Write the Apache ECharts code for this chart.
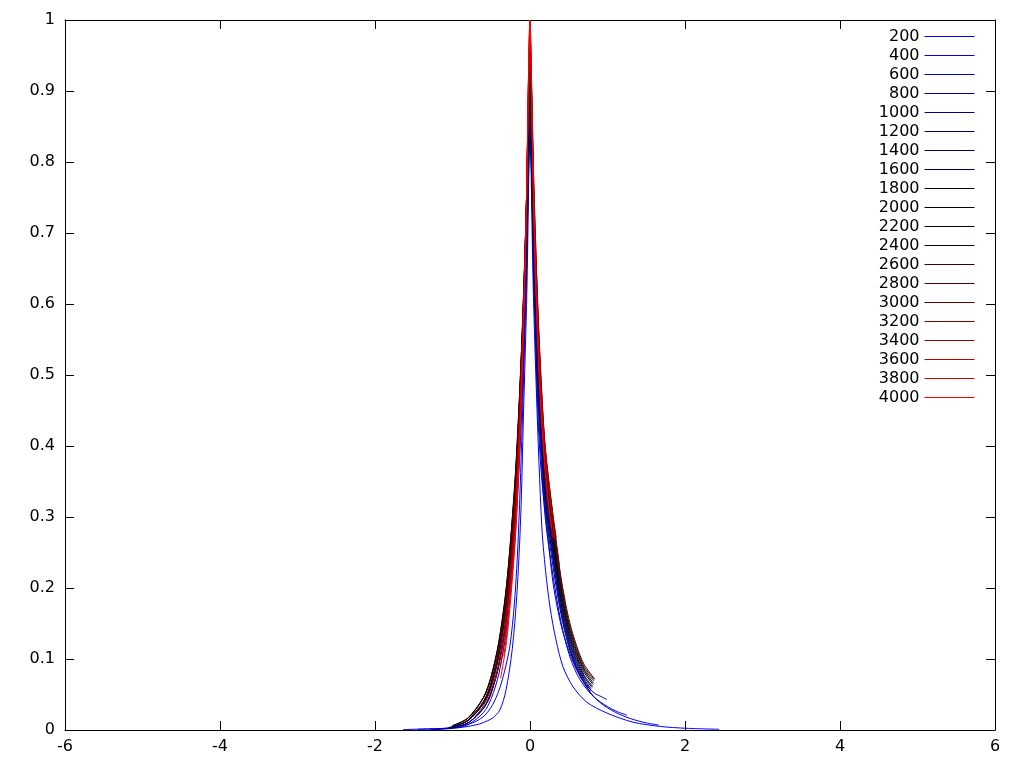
<!DOCTYPE html>
<html>
<head>
<meta charset="utf-8">
<script src="https://cdn.jsdelivr.net/npm/echarts@6/dist/echarts.min.js"></script>
<style>
  html, body { margin: 0; padding: 0; background: #fff; }
  #chart { width: 1024px; height: 768px; }
</style>
</head>
<body>
<div id="chart"></div>
<script>
// curve samples [x, y], one array per time step
var c200 = [[-1.64,0.0005],[-1.38,0.0015],[-1.1,0.0022],[-0.94,0.003],[-0.8,0.005],[-0.65,0.0085],[-0.55,0.013],[-0.48,0.017],[-0.39,0.028],[-0.31,0.056],[-0.23,0.113],[-0.17,0.19],[-0.12,0.3],[-0.085,0.44],[-0.04,0.62],[0,0.84],[0.04,0.63],[0.086,0.465],[0.151,0.289],[0.2,0.225],[0.26,0.172],[0.335,0.127],[0.426,0.089],[0.555,0.061],[0.735,0.039],[0.99,0.024],[1.33,0.011],[1.68,0.005],[2.0,0.0025],[2.44,0.001]]
var c400 = [[-1.45,0.0008],[-1.2,0.0018],[-1.0,0.0035],[-0.85,0.0065],[-0.7,0.012],[-0.58,0.021],[-0.48,0.036],[-0.4,0.056],[-0.33,0.082],[-0.26,0.118],[-0.2,0.18],[-0.15,0.275],[-0.095,0.45],[-0.05,0.63],[0,0.84],[0.05,0.64],[0.1,0.45],[0.15,0.355],[0.215,0.289],[0.3,0.205],[0.4,0.148],[0.49,0.115],[0.6,0.085],[0.75,0.057],[0.9,0.039],[1.1,0.025],[1.3,0.016],[1.5,0.01],[1.66,0.007]]
var c600 = [[-1.3,0.0004],[-1.0,0.0024],[-0.8,0.0076],[-0.6,0.0246],[-0.5,0.0444],[-0.4,0.0799],[-0.3,0.1438],[-0.2,0.259],[-0.15,0.348],[-0.1,0.4665],[-0.05,0.626],[0,0.84],[0.05,0.62],[0.1,0.47],[0.15,0.37],[0.2,0.295],[0.3,0.215],[0.4,0.152],[0.5,0.108],[0.6,0.08],[0.7,0.062],[0.83,0.046],[1.0,0.033],[1.12,0.026],[1.25,0.021]]
var c800 = [[-1.2,0.0011],[-1.0,0.0033],[-0.8,0.01],[-0.6,0.0303],[-0.5,0.0529],[-0.4,0.0921],[-0.3,0.1606],[-0.2,0.2797],[-0.15,0.3694],[-0.1,0.4877],[-0.05,0.6439],[0,0.85],[0.05,0.64],[0.1,0.485],[0.15,0.385],[0.2,0.31],[0.3,0.228],[0.4,0.163],[0.5,0.117],[0.6,0.087],[0.7,0.067],[0.83,0.052],[0.92,0.047],[0.99,0.043]]
var c1000 = [[-1.1,0.0019],[-1.0,0.0033],[-0.8,0.0101],[-0.6,0.0307],[-0.5,0.0535],[-0.4,0.0932],[-0.3,0.1625],[-0.2,0.283],[-0.15,0.3738],[-0.1,0.4935],[-0.05,0.6515],[0,0.86],[0.05,0.654],[0.1,0.499],[0.15,0.396],[0.2,0.318],[0.3,0.237],[0.4,0.168],[0.5,0.12],[0.6,0.089],[0.7,0.067],[0.78,0.053]]
var c1200 = [[-1.05,0.0025],[-0.8,0.0102],[-0.6,0.0311],[-0.5,0.0541],[-0.4,0.0943],[-0.3,0.1643],[-0.2,0.2862],[-0.15,0.3781],[-0.1,0.4992],[-0.05,0.659],[0,0.87],[0.05,0.663],[0.1,0.507],[0.15,0.403],[0.2,0.325],[0.3,0.243],[0.4,0.172],[0.5,0.124],[0.6,0.091],[0.7,0.07],[0.79,0.055]]
var c1400 = [[-1.05,0.0035],[-0.8,0.0131],[-0.6,0.0374],[-0.5,0.0633],[-0.4,0.1072],[-0.3,0.1815],[-0.2,0.3071],[-0.15,0.3995],[-0.1,0.5201],[-0.05,0.6767],[0,0.88],[0.05,0.672],[0.1,0.517],[0.15,0.411],[0.2,0.333],[0.3,0.249],[0.4,0.178],[0.5,0.128],[0.6,0.095],[0.7,0.072],[0.79,0.058]]
var c1600 = [[-1.0,0.0046],[-0.8,0.0132],[-0.6,0.0378],[-0.5,0.064],[-0.4,0.1084],[-0.3,0.1835],[-0.2,0.3106],[-0.15,0.4041],[-0.1,0.526],[-0.05,0.6844],[0,0.89],[0.05,0.683],[0.1,0.525],[0.15,0.418],[0.2,0.34],[0.3,0.255],[0.4,0.182],[0.5,0.132],[0.6,0.098],[0.7,0.075],[0.8,0.06]]
var c1800 = [[-1.0,0.0047],[-0.8,0.0134],[-0.6,0.0383],[-0.5,0.0647],[-0.4,0.1096],[-0.3,0.1856],[-0.2,0.3141],[-0.15,0.4086],[-0.1,0.5319],[-0.05,0.6921],[0,0.9],[0.05,0.692],[0.1,0.534],[0.15,0.426],[0.2,0.347],[0.3,0.262],[0.4,0.187],[0.5,0.136],[0.6,0.102],[0.7,0.077],[0.81,0.061]]
var c2000 = [[-1.0,0.0061],[-0.8,0.0167],[-0.6,0.0453],[-0.5,0.0747],[-0.4,0.1231],[-0.3,0.203],[-0.2,0.3348],[-0.15,0.4299],[-0.1,0.5519],[-0.05,0.7087],[0,0.91],[0.05,0.702],[0.1,0.543],[0.15,0.434],[0.2,0.354],[0.3,0.268],[0.4,0.193],[0.5,0.14],[0.6,0.105],[0.7,0.081],[0.815,0.064]]
var c2200 = [[-1.0,0.0062],[-0.8,0.0168],[-0.6,0.0458],[-0.5,0.0755],[-0.4,0.1245],[-0.3,0.2053],[-0.2,0.3385],[-0.15,0.4346],[-0.1,0.558],[-0.05,0.7165],[0,0.92],[0.05,0.711],[0.1,0.552],[0.15,0.442],[0.2,0.362],[0.3,0.274],[0.4,0.198],[0.5,0.144],[0.6,0.109],[0.7,0.084],[0.82,0.066]]
var c2400 = [[-0.95,0.008],[-0.8,0.017],[-0.6,0.0463],[-0.5,0.0764],[-0.4,0.1258],[-0.3,0.2075],[-0.2,0.3421],[-0.15,0.4393],[-0.1,0.564],[-0.05,0.7243],[0,0.93],[0.05,0.722],[0.1,0.561],[0.15,0.449],[0.2,0.369],[0.3,0.281],[0.4,0.203],[0.5,0.148],[0.6,0.112],[0.7,0.086],[0.825,0.069]]
var c2600 = [[-0.9,0.0082],[-0.8,0.014],[-0.6,0.04],[-0.5,0.0676],[-0.4,0.1145],[-0.3,0.1938],[-0.2,0.3281],[-0.15,0.4268],[-0.1,0.5555],[-0.05,0.7229],[0,0.94],[0.05,0.731],[0.1,0.571],[0.15,0.458],[0.2,0.377],[0.3,0.288],[0.4,0.209],[0.5,0.152],[0.6,0.116],[0.7,0.089],[0.83,0.071]]
var c2800 = [[-0.85,0.0108],[-0.8,0.0141],[-0.6,0.0404],[-0.5,0.0683],[-0.4,0.1157],[-0.3,0.1959],[-0.2,0.3316],[-0.15,0.4313],[-0.1,0.5615],[-0.05,0.7306],[0,0.95],[0.05,0.741],[0.1,0.58],[0.15,0.466],[0.2,0.385],[0.3,0.295],[0.4,0.214],[0.5,0.157],[0.6,0.119],[0.7,0.092],[0.835,0.072]]
var c3000 = [[-0.7,0.0197],[-0.6,0.0343],[-0.5,0.0597],[-0.4,0.1041],[-0.3,0.1813],[-0.2,0.3158],[-0.15,0.4172],[-0.1,0.5508],[-0.05,0.7272],[0,0.96],[0.05,0.75],[0.1,0.59],[0.15,0.47],[0.2,0.39],[0.3,0.295],[0.4,0.212],[0.45,0.183]]
var c3200 = [[-0.55,0.0382],[-0.5,0.0512],[-0.4,0.0922],[-0.3,0.1661],[-0.2,0.2991],[-0.15,0.4016],[-0.1,0.5387],[-0.05,0.7227],[0,0.97],[0.05,0.76],[0.1,0.595],[0.15,0.475],[0.2,0.392],[0.3,0.298],[0.38,0.232]]
var c3400 = [[-0.45,0.0695],[-0.4,0.0932],[-0.3,0.1678],[-0.2,0.3022],[-0.15,0.4057],[-0.1,0.5443],[-0.05,0.7301],[0,0.98],[0.05,0.77],[0.1,0.6],[0.15,0.48],[0.2,0.395],[0.3,0.3],[0.34,0.27]]
var c3600 = [[-0.38,0.092],[-0.3,0.1519],[-0.2,0.2836],[-0.15,0.3877],[-0.1,0.5299],[-0.05,0.7243],[0,0.99],[0.03,0.84],[0.06,0.7],[0.1,0.57],[0.15,0.46],[0.2,0.385],[0.25,0.335],[0.32,0.27]]
var c3800 = [[-0.34,0.1037],[-0.3,0.1353],[-0.2,0.2636],[-0.15,0.3679],[-0.1,0.5134],[-0.05,0.7165],[0,1.0],[0.03,0.84],[0.06,0.69],[0.1,0.555],[0.13,0.48],[0.17,0.41],[0.215,0.345],[0.26,0.3],[0.3,0.27]]
var c4000 = [[-0.38,0.0728],[-0.3,0.1263],[-0.2,0.2517],[-0.15,0.3555],[-0.1,0.5016],[-0.05,0.7083],[0,1.0],[0.03,0.82],[0.06,0.67],[0.1,0.54],[0.13,0.47],[0.17,0.4],[0.215,0.338],[0.25,0.305],[0.28,0.285]]

var stepNames = ['200','400','600','800','1000','1200','1400','1600','1800','2000',
                 '2200','2400','2600','2800','3000','3200','3400','3600','3800','4000']
var curves = [c200, c400, c600, c800, c1000, c1200, c1400, c1600, c1800, c2000,
              c2200, c2400, c2600, c2800, c3000, c3200, c3400, c3600, c3800, c4000]

// blue -> black -> red, like the gnuplot palette
var lineColors = ['#0000ff','#0000e6','#0000cc','#0000a6','#00008c','#000073','#000059','#000040','#000026','#00000d',
                  '#080000','#1a0000','#400000','#500000','#600000','#800000','#900000','#c00000','#e00000','#ff0000']

var font = 'DejaVu Sans'

var chart = echarts.init(document.getElementById('chart'), null, { renderer: 'canvas' })

var series = []
for (var i = 0; i < curves.length; i++) {
  series.push({
    name: stepNames[i],
    type: 'line',
    data: curves[i],
    symbol: 'none',
    smooth: 0.3,
    lineStyle: { width: 1, color: lineColors[i] },
    itemStyle: { color: lineColors[i] },
    z: 2 + i
  })
}

function axisBase(pos, showLabel) {
  return {
    position: pos,
    axisLine: { show: true, onZero: false, lineStyle: { color: '#000', width: 1 } },
    axisTick: { show: true, inside: true, length: 9, lineStyle: { color: '#000' } },
    axisLabel: { show: showLabel, color: '#000', fontSize: 16, fontFamily: font },
    splitLine: { show: false }
  }
}

var xBottom = axisBase('bottom', true)
xBottom.type = 'value'; xBottom.min = -6; xBottom.max = 6; xBottom.interval = 2
xBottom.axisLabel.margin = 9
var xTop = axisBase('top', false)
xTop.type = 'value'; xTop.min = -6; xTop.max = 6; xTop.interval = 2

var yLeft = axisBase('left', true)
yLeft.type = 'value'; yLeft.min = 0; yLeft.max = 1; yLeft.interval = 0.1
yLeft.axisLabel.margin = 10
var yRight = axisBase('right', false)
yRight.type = 'value'; yRight.min = 0; yRight.max = 1; yRight.interval = 0.1

chart.setOption({
  animation: false,
  backgroundColor: '#fff',
  grid: { left: 65, right: 29, top: 20, bottom: 38 },
  legend: {
    orient: 'vertical',
    right: 49,
    top: 28.5,
    padding: 0,
    itemGap: 3,
    itemWidth: 50,
    itemHeight: 15,
    align: 'right',
    selectedMode: false,
    data: stepNames,
    itemStyle: { opacity: 0 },
    lineStyle: { width: 1 },
    formatter: '{n|{name}}',
    textStyle: {
      color: '#000',
      fontSize: 16,
      fontFamily: font,
      rich: { n: { width: 44, align: 'right', fontSize: 16, fontFamily: font, color: '#000' } }
    }
  },
  xAxis: [xBottom, xTop],
  yAxis: [yLeft, yRight],
  series: series
})
</script>
</body>
</html>
